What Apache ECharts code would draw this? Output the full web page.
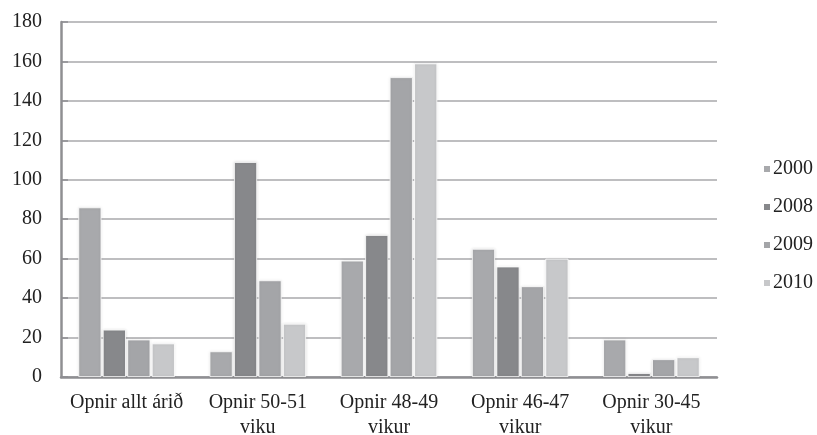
<!DOCTYPE html>
<html>
<head>
<meta charset="utf-8">
<script src="https://cdn.jsdelivr.net/npm/echarts@6/dist/echarts.min.js"></script>
<style>html,body{margin:0;padding:0;background:#fff}#c{width:817px;height:435px}</style>
</head>
<body>
<div id="c"></div>
<script>
const categories = ['Opnir allt árið', 'Opnir 50-51\nviku', 'Opnir 48-49\nvikur', 'Opnir 46-47\nvikur', 'Opnir 30-45\nvikur'];
const years = ['2000', '2008', '2009', '2010'];
const v2000 = [86, 13, 59, 65, 19];
const v2008 = [24, 109, 72, 56, 2];
const v2009 = [19, 49, 152, 46, 9];
const v2010 = [17, 27, 159, 60, 10];
const yTicks = [0, 20, 40, 60, 80, 100, 120, 140, 160, 180];

const colors = ['#a8a9ac', '#87888b', '#a4a5a8', '#c7c8ca'];
const seriesValues = [v2000, v2008, v2009, v2010];
const font = 'Liberation Serif';

const chart = echarts.init(document.getElementById('c'));
chart.setOption({
  animation: false,
  textStyle: { fontFamily: font },
  grid: { left: 61, right: 100, top: 22, bottom: 58, containLabel: false, outerBoundsMode: 'none' },
  legend: {
    orient: 'vertical',
    left: 757,
    top: 154,
    itemWidth: 8,
    itemHeight: 8,
    itemGap: 18,
    icon: 'rect',
    data: years,
    textStyle: { fontFamily: font, fontSize: 20, color: '#222', padding: [0, 0, 0, -3] }
  },
  xAxis: {
    type: 'category',
    data: categories,
    axisLine: { lineStyle: { color: '#8f8f92', width: 2.5 } },
    axisTick: { show: false },
    axisLabel: { fontFamily: font, fontSize: 20, color: '#222', lineHeight: 25, margin: 13, interval: 0 }
  },
  yAxis: {
    type: 'value',
    min: yTicks[0],
    max: yTicks[yTicks.length - 1],
    interval: yTicks[1] - yTicks[0],
    axisLine: { show: true, lineStyle: { color: '#8f8f92', width: 2.5 } },
    axisTick: { show: true, inside: true, length: 7, lineStyle: { color: '#8f8f92', width: 1.5 } },
    splitLine: { lineStyle: { color: '#a9a9ab', width: 1.5 } },
    axisLabel: { fontFamily: font, fontSize: 20, color: '#222', margin: 19 }
  },
  series: years.map((y, i) => ({
    name: y,
    type: 'bar',
    data: seriesValues[i],
    barWidth: '17.6%',
    barGap: '6%',
    itemStyle: {
      color: colors[i],
      borderColor: '#ffffff',
      borderWidth: 0.8,
      shadowBlur: 3,
      shadowColor: 'rgba(0,0,0,0.12)'
    }
  }))
});
</script>
</body>
</html>
